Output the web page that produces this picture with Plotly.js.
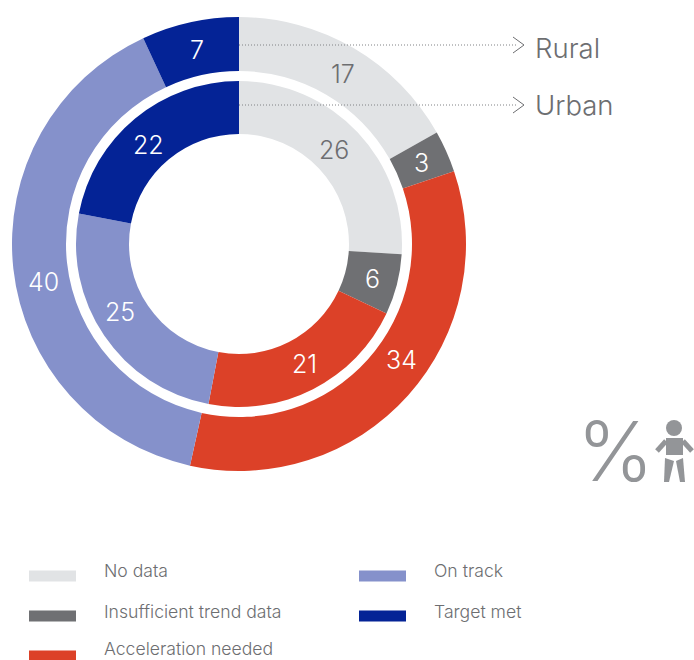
<!DOCTYPE html>
<html><head><meta charset="utf-8">
<script src="https://cdn.plot.ly/plotly-3.0.1.min.js"></script>
<style>html,body{margin:0;padding:0;background:#fff;overflow:hidden}#c{width:694px;height:660px}</style>
</head><body><div id="c"></div>
<script>
const categories=["No data","Insufficient trend data","Acceleration needed","On track","Target met"];
const rural=[17,3,34,40,7];
const urban=[26,6,21,25,22];
const colors=["#e1e3e5","#6f7073","#dc4128","#8591cb","#042396"];
const labelColors=["#6d6e71","#ffffff","#ffffff","#ffffff","#ffffff"];
const W=694,H=660,GREY="#6d6e71",FONT="Inter, sans-serif",ICON="#939598";
const fx=x=>x/W, fy=y=>1-y/H;
function ring(vals,name,r,hole){
  const cx=239,cy=244;
  return {type:"pie",name,labels:categories,values:vals,sort:false,direction:"clockwise",rotation:0,hole,
    domain:{x:[fx(cx-r),fx(cx+r)],y:[fy(cy+r),fy(cy-r)]},
    marker:{colors,line:{width:0}},textinfo:"none",showlegend:false,hoverinfo:"label+value"};
}
const data=[ring(rural,"Rural",227,173/227),ring(urban,"Urban",163,110/163)];
const shapes=[],annotations=[];
function poly(p,closed,opt){shapes.push(Object.assign({type:"path",xref:"paper",yref:"paper",layer:"above",path:p.map((q,i)=>(i?"L":"M")+fx(q[0])+","+fy(q[1])).join(" ")+(closed?" Z":"")},opt));}
function txt(t,x,y,size,color,extra){annotations.push(Object.assign({text:t,xref:"paper",yref:"paper",x:fx(x),y:fy(y),xanchor:"left",yanchor:"middle",showarrow:false,align:"left",font:{family:FONT,size,color,weight:300}},extra||{}));}
// hand-placed value labels, as in the reference
const ruralPos=[[343,74],[421,163],[401,360],[43,282],[197,50]];
const urbanPos=[[334,150],[372,279],[304,364],[120,312],[148,145]];
[[rural,ruralPos],[urban,urbanPos]].forEach(([vals,pos])=>vals.forEach((v,i)=>
  txt(String(v),pos[i][0],pos[i][1],25,labelColors[i],{xanchor:"center"})));
[["Rural",45,47.5],["Urban",105,104.5]].forEach(([t,y,ty])=>{
  poly([[239,y],[516,y]],false,{line:{color:"#808285",width:1,dash:"1px,2px"}});
  poly([[513,y-8],[524,y],[513,y+8]],false,{line:{color:GREY,width:1}});
  txt(t,533,ty,27.5,GREY);
});
const rows=[[29,102,570.5,576],[29,102,611,616],[29,102,648.5,656],[359,432,570.5,576],[359,432,611,616]];
categories.forEach((c,i)=>{
  const [sx,tx,ty,sy]=rows[i];
  shapes.push({type:"rect",xref:"paper",yref:"paper",layer:"above",x0:fx(sx),x1:fx(sx+47),y0:fy(sy-5.5),y1:fy(sy+5.5),fillcolor:colors[i],line:{width:0}});
  txt(c,tx,ty,17.6,GREY);
});
txt("%",575,451,82,ICON,{font:{family:FONT,size:82,color:ICON,weight:300}});
// child icon
shapes.push({type:"circle",xref:"paper",yref:"paper",layer:"above",x0:fx(666),x1:fx(682),y0:fy(436),y1:fy(420),fillcolor:ICON,line:{width:0}});
const iconFill={fillcolor:ICON,line:{width:0}};
poly([[666,438],[683,438],[683,455],[666,455]],true,iconFill);
poly([[666,441],[657,451]],false,{line:{color:ICON,width:5}});
poly([[683,441],[692,451]],false,{line:{color:ICON,width:5}});
poly([[665,458],[674,461],[669,482],[664,482]],true,iconFill);
poly([[683,458],[676,461],[680,482],[685,482]],true,iconFill);
Plotly.newPlot("c",data,{width:W,height:H,margin:{l:0,r:0,t:0,b:0},paper_bgcolor:"#fff",showlegend:false,shapes,annotations},{displayModeBar:false,staticPlot:true});
</script></body></html>
